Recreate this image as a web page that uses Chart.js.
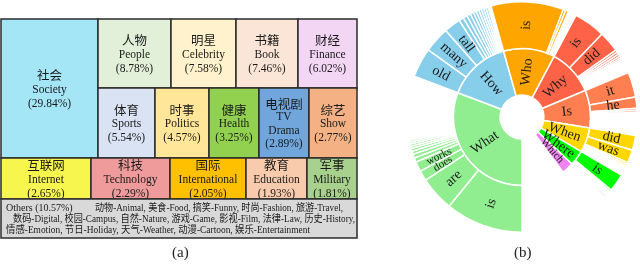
<!DOCTYPE html>
<html>
<head>
<meta charset="utf-8">
<script src="https://cdn.jsdelivr.net/npm/chart.js@4.4.1/dist/chart.umd.min.js"></script>
<style>
  html, body { margin: 0; padding: 0; background: #fff; }
  body { width: 640px; height: 264px; position: relative; overflow: hidden; }
  #treeBox { position: absolute; left: 0; top: 0; width: 362px; height: 264px; }
  #sunBox { position: absolute; left: 406px; top: 1px; width: 232px; height: 232px; }
  .cap { position: absolute; top: 245px; font: 15px "Liberation Serif", serif; line-height: 15px; color: #222; }
</style>
</head>
<body>
<div id="treeBox"><canvas id="treemapTopics"></canvas></div>
<div id="sunBox"><canvas id="sunburstQuestions"></canvas></div>
<div class="cap" style="left:172px">(a)</div>
<div class="cap" style="left:514px">(b)</div>
<script>
// (a) topic categories
const topicZh = ['社会', '人物', '明星', '书籍', '财经', '体育', '时事', '健康', '电视剧', '综艺', '互联网', '科技', '国际', '教育', '军事'];
const topicEn = ['Society', 'People', 'Celebrity', 'Book', 'Finance', 'Sports', 'Politics', 'Health', 'TV\nDrama', 'Show', 'Internet', 'Technology', 'International', 'Education', 'Military'];
const topicShare = [29.84, 8.78, 7.58, 7.46, 6.02, 5.54, 4.57, 3.25, 2.89, 2.77, 2.65, 2.29, 2.05, 1.93, 1.81];
const othersShare = 10.57;
const othersZh = ['动物', '美食', '搞笑', '时尚', '旅游', '数码', '校园', '自然', '游戏', '影视', '法律', '历史', '情感', '节日', '天气', '动漫', '娱乐'];
const othersEn = ['Animal', 'Food', 'Funny', 'Fashion', 'Travel', 'Digital', 'Campus', 'Nature', 'Game', 'Film', 'Law', 'History', 'Emotion', 'Holiday', 'Weather', 'Cartoon', 'Entertainment'];

// (b) question words and the words that follow them (angles in degrees)
const questionWords = ['What', 'How', 'Who', 'Why', 'Is', 'When', 'Where', 'Which'];
const questionShare = [110.7, 53.7, 43.6, 39.3, 32, 21, 13, 10];
const questionGap = 36.7;
const whatNext = ['is', 'are', 'does', 'works'];
const whatNextShare = [39.3, 17.5, 5.2, 5.0, 2.2, 1.9, 1.6, 1.4, 1.2, 1.1, 1.0, 0.9, 0.7];
const howNext = ['old', 'many', 'tall'];
const howNextShare = [14.9, 13.0, 8.4, 2.4, 2.1, 1.9, 1.7, 1.5, 1.4, 1.3, 1.2, 1.2, 1.1];
const whoNext = ['is'];
const whoNextShare = [36.6, 1.3, 1.4];
const whyNext = ['is', 'did'];
const whyNextShare = [16.0, 10.5, 1.3, 1.2, 1.1, 1.0, 0.9, 0.8, 0.8, 0.7, 0.7, 0.6];
const isNext = ['it', 'he'];
const isNextShare = [12.7, 5.7, 1.0, 0.9, 0.7, 0.6, 0.6, 0.5];
const whenNext = ['did', 'was'];
const whenNextShare = [7.5, 6.5, 1.0, 0.9, 0.8, 0.8];
const whereNext = ['is'];
const whereNextShare = [9.0, 0.9, 0.8, 0.7, 0.6];
const whichNext = [];
const whichNextShare = [0.9, 0.8, 0.7, 0.6, 0.5, 0.5];

// treemap layout, in the units of the hidden scales: [x0, x1, y0, y1]
const topicBox = [
  [0, 97, 0, 139], [97, 170, 0, 69], [170, 235, 0, 69], [235, 297, 0, 69], [297, 356, 0, 69],
  [97, 154, 69, 139], [154, 208, 69, 139], [208, 258, 69, 139], [258, 308, 69, 139], [308, 356, 69, 139],
  [0, 90, 139, 180], [90, 169, 139, 180], [169, 245, 139, 180], [245, 306, 139, 180], [306, 356, 139, 180]
];
const othersBox = [0, 356, 180, 219];
const topicColors = ['#a4e5f6', '#e2efd9', '#fff2cc', '#fbe5d6', '#f3d5f4', '#dae3f3', '#ffe699', '#92d050', '#70a6db', '#f4b183',
  '#f6f64f', '#f09b9b', '#ffc000', '#f8cbad', '#a9d18e'];
const othersColor = '#d9d9d9';
const questionColors = ['#90ee90', '#87ceeb', '#ffa500', '#ff6347', '#ff7f50', '#ffd700', '#00ff00', '#ee82ee'];

const cnFont = '"Noto Sans CJK SC"';
const serif = '"Liberation Serif", "Noto Sans CJK SC", serif';

const treemapCells = {
  id: 'treemapCells',
  afterDatasetsDraw(chart) {
    const ctx = chart.ctx;
    const x = chart.scales.x, y = chart.scales.y;
    const rect = (b) => {
      const l = x.getPixelForValue(b[0]), r = x.getPixelForValue(b[1]);
      const t = y.getPixelForValue(b[2]), btm = y.getPixelForValue(b[3]);
      return {l, r, t, b: btm, w: r - l, h: btm - t};
    };
    ctx.save();
    ctx.textAlign = 'center';
    ctx.textBaseline = 'middle';
    topicZh.forEach((zh, i) => {
      const c = rect(topicBox[i]);
      ctx.fillStyle = topicColors[i];
      ctx.fillRect(c.l, c.t, c.w, c.h);
      ctx.strokeStyle = '#2b2b2b';
      ctx.lineWidth = 1.5;
      ctx.strokeRect(c.l, c.t, c.w, c.h);
      const lines = [zh].concat(topicEn[i].split('\n'), ['(' + topicShare[i].toFixed(2) + '%)']);
      const step = lines.length > 3 ? 13.5 : 14;
      const cx = (c.l + c.r) / 2;
      const y0 = (c.t + c.b) / 2 + 1 - step * (lines.length - 1) / 2;
      ctx.fillStyle = '#1a1a1a';
      lines.forEach((s, k) => {
        ctx.font = k === 0 ? '12.5px ' + cnFont : '11.5px ' + serif;
        ctx.fillText(s, cx, y0 + k * step);
      });
    });
    // Others
    const o = rect(othersBox);
    ctx.fillStyle = othersColor;
    ctx.fillRect(o.l, o.t, o.w, o.h);
    ctx.strokeStyle = '#2b2b2b';
    ctx.lineWidth = 1.5;
    ctx.strokeRect(o.l, o.t, o.w, o.h);
    const items = othersZh.map((z, i) => z + '-' + othersEn[i]);
    const line1 = items.slice(0, 5).join(', ') + ',';
    const line2 = items.slice(5, 12).join(', ') + ',';
    const line3 = items.slice(12).join(', ');
    ctx.fillStyle = '#1a1a1a';
    ctx.font = '10px ' + serif;
    ctx.textAlign = 'left';
    ctx.fillText('Others (' + othersShare.toFixed(2) + '%)', o.l + 5, o.t + 9);
    ctx.fillText(line1, o.l + 94, o.t + 9, o.w - 108);
    ctx.fillText(line2, o.l + 12, o.t + 20, o.w - 14);
    ctx.fillText(line3, o.l + 5, o.t + 31, o.w - 52);
    ctx.restore();
  }
};

new Chart(document.getElementById('treemapTopics'), {
  type: 'scatter',
  data: { datasets: [{ data: [] }] },
  options: {
    responsive: true,
    maintainAspectRatio: false,
    animation: false,
    events: [],
    layout: { padding: { left: 1, top: 19, right: 5, bottom: 26 } },
    scales: {
      x: { type: 'linear', display: false, min: 0, max: 356 },
      y: { type: 'linear', display: false, min: 0, max: 219, reverse: true }
    },
    plugins: { legend: { display: false }, tooltip: { enabled: false } }
  },
  plugins: [treemapCells]
});

// sunburst rings
const nextWords = [whatNext, howNext, whoNext, whyNext, isNext, whenNext, whereNext, whichNext];
const nextShare = [whatNextShare, howNextShare, whoNextShare, whyNextShare, isNextShare, whenNextShare, whereNextShare, whichNextShare];
const clear = 'rgba(0,0,0,0)';

const outerValues = [], outerColors = [], outerWords = [], outerBorders = [];
questionWords.forEach((q, i) => {
  let used = 0;
  nextShare[i].forEach((v, j) => {
    outerValues.push(v);
    outerColors.push(questionColors[i]);
    outerWords.push(nextWords[i][j] || '');
    outerBorders.push(1.5);
    used += v;
  });
  const rest = questionShare[i] - used;
  if (rest > 0.05) {
    outerValues.push(rest);
    outerColors.push(clear);
    outerWords.push('');
    outerBorders.push(0);
  }
});
outerValues.push(questionGap);
outerColors.push(clear);
outerWords.push('');
outerBorders.push(0);

const innerValues = questionShare.concat([questionGap]);
const innerColors = questionColors.concat([clear]);
const innerWords = questionWords.concat(['']);
const innerBorders = questionWords.map(() => 1.5).concat([0]);

const wedgeLabels = {
  id: 'wedgeLabels',
  afterDatasetsDraw(chart) {
    const ctx = chart.ctx;
    chart.data.datasets.forEach((ds, di) => {
      const meta = chart.getDatasetMeta(di);
      meta.data.forEach((arc, k) => {
        const text = ds.words[k];
        if (!text) return;
        const p = arc.getProps(['x', 'y', 'startAngle', 'endAngle', 'innerRadius', 'outerRadius'], true);
        const a = (p.startAngle + p.endAngle) / 2;
        const r = (p.innerRadius + p.outerRadius) / 2;
        let rot = a;
        while (rot > Math.PI / 2) rot -= Math.PI;
        while (rot <= -Math.PI / 2) rot += Math.PI;
        const small = text === 'Which' || text === 'does' || text === 'works';
        ctx.save();
        ctx.translate(p.x + r * Math.cos(a), p.y + r * Math.sin(a));
        ctx.rotate(rot);
        ctx.font = (small ? '11px ' : '14px ') + serif;
        ctx.textAlign = 'center';
        ctx.textBaseline = 'middle';
        ctx.fillStyle = '#1a1a1a';
        ctx.fillText(text, 0, 0);
        ctx.restore();
      });
    });
  }
};

new Chart(document.getElementById('sunburstQuestions'), {
  type: 'doughnut',
  data: {
    labels: outerWords,
    datasets: [
      { data: outerValues, words: outerWords, backgroundColor: outerColors, borderColor: '#fff', borderWidth: outerBorders },
      { data: innerValues, words: innerWords, backgroundColor: innerColors, borderColor: '#fff', borderWidth: innerBorders }
    ]
  },
  options: {
    responsive: true,
    maintainAspectRatio: false,
    animation: false,
    events: [],
    rotation: 180,
    circumference: 360,
    cutout: '19%',
    layout: { padding: 0 },
    plugins: { legend: { display: false }, tooltip: { enabled: false } }
  },
  plugins: [wedgeLabels]
});
</script>
</body>
</html>
